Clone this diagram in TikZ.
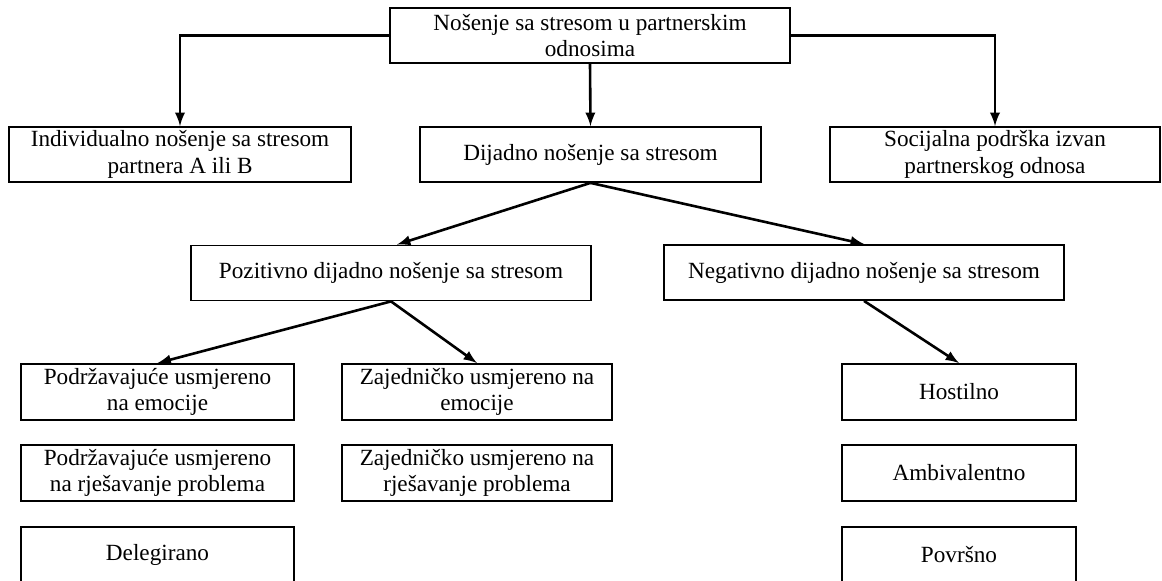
\documentclass[tikz,border=0pt]{standalone}
\usepackage{fontspec}
\setmainfont{Liberation Serif}
\usetikzlibrary{arrows}
\begin{document}
\begin{tikzpicture}[x=0.5pt,y=-0.5pt]

\tikzstyle{box}=[draw,line width=0.9pt,align=center,inner sep=0pt,minimum height=27.5pt,font=\fontsize{11.6}{13.2}\selectfont]
\tikzstyle{conn}=[line width=1.3pt,-latex]

\useasboundingbox (0,0) rectangle (1162,581);
\clip (0,0) rectangle (1162,581);

\node[box,minimum width=200pt] (root) at (590,35.5) {Nošenje sa stresom u partnerskim\\odnosima};
\node[box,minimum width=171pt] (indiv) at (180,154.5) {Individualno nošenje sa stresom\\partnera A ili B};
\node[box,minimum width=170.5pt] (dyad) at (590.5,154.5) {Dijadno nošenje sa stresom};
\node[box,minimum width=165pt] (social) at (995,154.5) {Socijalna podrška izvan\\partnerskog odnosa};

\node[box,minimum width=200pt] (pos) at (391,273) {Pozitivno dijadno nošenje sa stresom};
\node[box,minimum width=200pt] (neg) at (864,272.5) {Negativno dijadno nošenje sa stresom};

\node[box,minimum width=136.5pt,minimum height=28pt] (supemo) at (157.5,392) {Podržavajuće usmjereno\\na emocije};
\node[box,minimum width=136.5pt,minimum height=28pt] (supprob) at (157.5,473) {Podržavajuće usmjereno\\na rješavanje problema};
\node[box,minimum width=136.5pt,minimum height=28pt] (deleg) at (157.5,555) {Delegirano};

\node[box,minimum width=135pt,minimum height=28pt] (comemo) at (477,392) {Zajedničko usmjereno na\\emocije};
\node[box,minimum width=135pt,minimum height=28pt] (comprob) at (477,473) {Zajedničko usmjereno na\\rješavanje problema};

\node[box,minimum width=117pt,minimum height=28pt] (host) at (959,392) {Hostilno};
\node[box,minimum width=117pt,minimum height=28pt] (ambi) at (959,473) {Ambivalentno};
\node[box,minimum width=117pt,minimum height=28pt] (super) at (959,555) {Površno};

\draw[conn] (root.west) -| (indiv.north);
\draw[conn] (root.south) -- (dyad.north);
\draw[conn] (root.east) -| (social.north);

\draw[conn] (dyad.south) -- ([xshift=3pt]pos.north);
\draw[conn] (dyad.south) -- (neg.north);

\draw[conn] (pos.south) -- (supemo.north);
\draw[conn] (pos.south) -- (comemo.north);
\draw[conn] (neg.south) -- (host.north);

\end{tikzpicture}
\end{document}
